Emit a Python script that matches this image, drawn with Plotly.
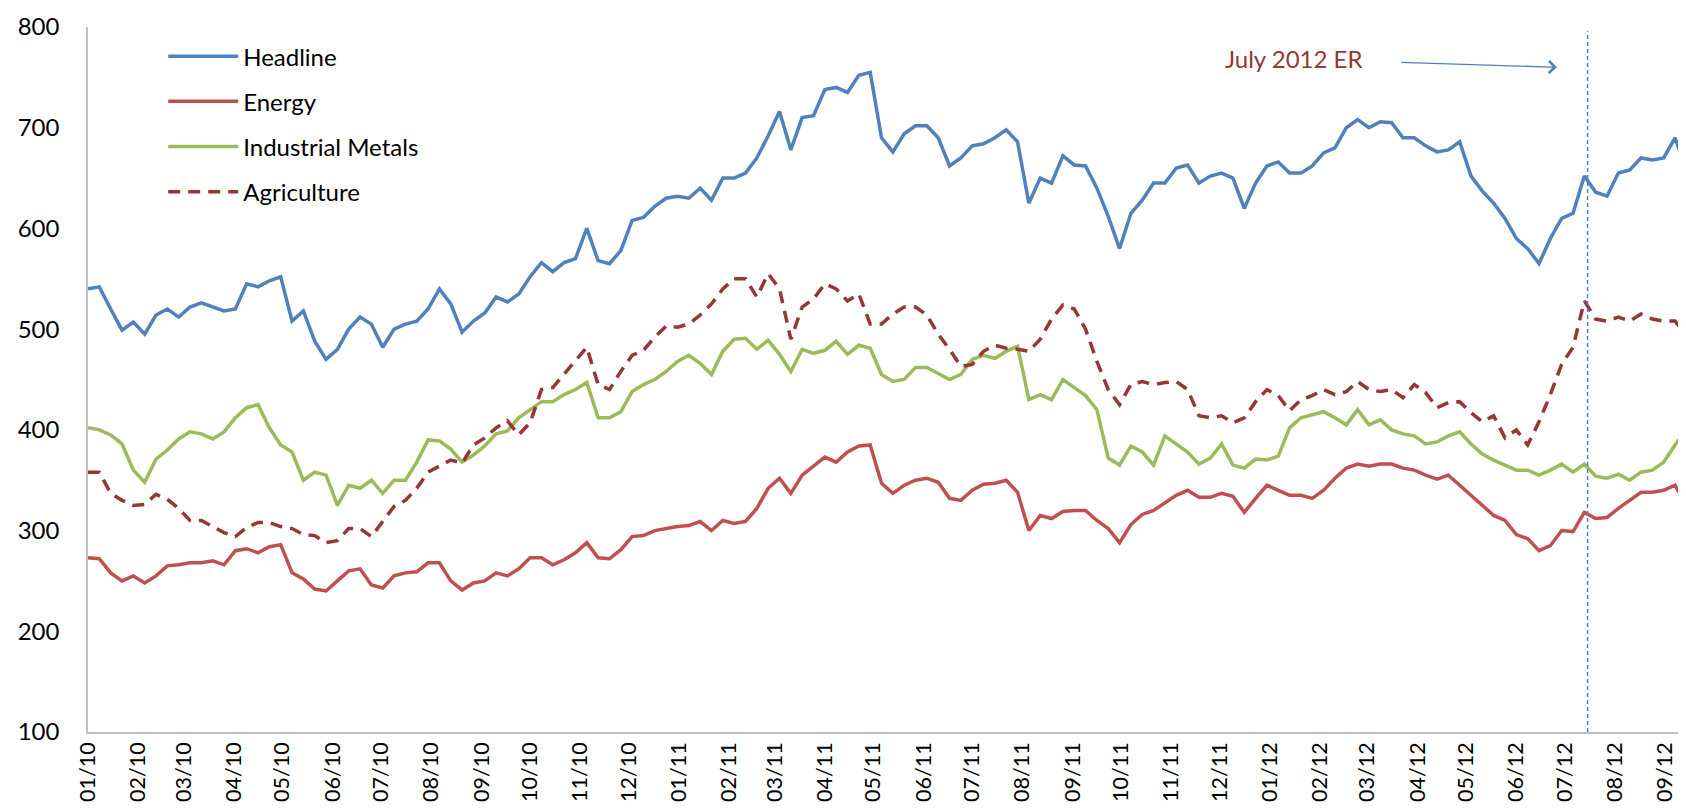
import pandas as pd
import plotly.graph_objects as go

# weekly (Friday) observations, Jan 2010 - mid Sep 2012
dates = pd.date_range("2010-01-01", "2012-09-14", freq="7D")

headline = [
    540, 542, 520, 499, 507,  495, 514, 520, 512,  522, 526, 522, 518,
    520, 545, 542, 548, 552,  508, 518, 488, 470,  480, 500, 512, 505,
    482, 500, 505, 508, 520,  540, 525, 497, 508,  516, 532, 527, 535,
    552, 566, 557, 566, 570,  600, 568, 565, 578,  608, 611, 622, 630, 632,
    630, 640, 628, 650,  650, 655, 670, 692,  716, 678, 710, 712,
    738, 740, 735, 752, 755,  690, 676, 694, 702,  702, 690, 662, 670,
    682, 684, 690, 698, 686,  625, 650, 645, 672,  663, 662, 640, 612, 580,
    615, 628, 645, 645,  660, 663, 645, 652,  655, 650, 620, 645, 662,
    666, 655, 655, 662,  675, 680, 700, 708,  700, 706, 705, 690, 690,
    682, 676, 678, 686,  652, 637, 625, 610,  590, 580, 565, 590, 610,
    615, 652, 636, 632,  655, 658, 670, 668, 670,  690, 658,
]

energy = [
    273, 272, 258, 250, 255,  248, 255, 265, 266,  268, 268, 270, 266,
    280, 282, 278, 284, 286,  258, 252, 242, 240,  250, 260, 262, 246,
    243, 255, 258, 259, 268,  268, 250, 241, 248,  250, 258, 255, 262,
    273, 273, 266, 271, 278,  288, 273, 272, 281,  294, 295, 300, 302, 304,
    305, 309, 300, 310,  307, 309, 322, 342,  352, 337, 355, 364,
    373, 368, 378, 384, 385,  347, 337, 345, 350,  352, 348, 332, 330,
    340, 346, 347, 350, 338,  300, 315, 312, 319,  320, 320, 310, 302, 288,
    306, 316, 320, 327,  335, 340, 333, 333,  337, 334, 318, 332, 345,
    340, 335, 335, 332,  340, 352, 362, 366,  364, 366, 366, 362, 360,
    355, 351, 355, 345,  335, 325, 315, 310,  296, 292, 280, 285, 300,
    299, 318, 312, 313,  322, 330, 338, 338, 340,  345, 325,
]

metals = [
    402, 400, 395, 386, 360,  348, 371, 380, 391,  398, 396, 391, 398,
    412, 422, 425, 402, 385,  378, 350, 358, 355,  325, 345, 342, 350,
    337, 350, 350, 368, 390,  389, 381, 368, 375,  384, 396, 399, 412,
    420, 428, 428, 435, 440,  447, 412, 412, 418,  438, 445, 450, 458, 468,
    474, 466, 455, 478,  490, 491, 480, 489,  475, 458, 480, 476,
    479, 488, 475, 484, 481,  455, 448, 450, 462,  462, 456, 450, 455,
    470, 474, 471, 478, 483,  430, 435, 430, 450,  442, 434, 420, 372, 365,
    384, 378, 365, 394,  386, 378, 366, 372,  386, 365, 362, 371, 370,
    374, 402, 412, 415,  418, 412, 405, 420,  405, 410, 400, 396, 394,
    386, 388, 394, 398,  386, 376, 370, 365,  360, 360, 355, 360, 366,
    358, 366, 354, 352,  356, 350, 358, 360, 368,  385, 400,
]

agriculture = [
    358, 358, 337, 330, 325,  326, 336, 331, 322,  310, 310, 304, 298,
    294, 303, 308, 308, 304,  302, 296, 295, 288,  290, 302, 302, 294,
    309, 324, 330, 342, 358,  364, 370, 367, 385,  392, 402, 409, 395,
    407, 440, 442, 455, 468,  482, 445, 440, 458,  474, 479, 492, 503, 502,
    505, 514, 525, 540,  550, 550, 532, 555,  540, 490, 522, 530,
    545, 540, 528, 535, 505,  505, 515, 522, 522,  514, 495, 480, 463,
    465, 478, 484, 481, 480,  478, 490, 510, 524,  520, 500, 468, 440, 425,
    445, 448, 445, 447,  448, 440, 414, 412,  414, 407, 412, 428, 440,
    434, 419, 430, 434,  440, 435, 438, 448,  440, 438, 440, 432, 445,
    437, 422, 427, 428,  417, 408, 414, 392,  400, 385, 408, 435, 465,
    482, 528, 510, 508,  512, 508, 515, 510, 508,  508, 494,
]

er_date = "2012-07-15"

fig = go.Figure()
series = [
    ("Headline", headline, "#4F81BD", "solid"),
    ("Energy", energy, "#C0504D", "solid"),
    ("Industrial Metals", metals, "#9BBB59", "solid"),
    ("Agriculture", agriculture, "#953735", "12px,8px"),
]
for name, vals, color, dash in series:
    fig.add_trace(go.Scatter(x=dates, y=vals, mode="lines", name=name,
                             legendgroup=name,
                             line=dict(color=color, width=3.5, dash=dash)))

# July 2012 ER marker
fig.add_shape(type="line", xref="x", yref="paper", x0=er_date, x1=er_date,
              y0=0, y1=0.994, line=dict(color="#4F81BD", width=1.5, dash="4px,3px"))
fig.add_annotation(x="2012-01-16", y=769, xref="x", yref="y", text="July 2012 ER",
                   showarrow=False, font=dict(size=24, color="#953735"))
fig.add_annotation(x="2012-06-26", y=760, ax="2012-03-21", ay=765,
                   xref="x", yref="y", axref="x", ayref="y", text="",
                   showarrow=True, arrowhead=4, arrowsize=1.8, arrowwidth=1.3,
                   arrowcolor="#4F81BD")

fig.update_layout(
    width=1686, height=810,
    margin=dict(l=80, r=6, t=19, b=86),
    paper_bgcolor="white", plot_bgcolor="white",
    font=dict(family="Lato, 'Open Sans', sans-serif", color="#000000"),
    legend=dict(x=0.047, y=0.99, xanchor="left", yanchor="top",
                bgcolor="rgba(0,0,0,0)", font=dict(size=24),
                traceorder="grouped", tracegroupgap=11, itemwidth=70),
    showlegend=True,
)
fig.update_xaxes(range=["2010-01-01", "2012-09-15"], dtick="M1", tick0="2010-01-01",
                 tickformat="%m/%y", tickangle=-90, tickfont=dict(size=21.5),
                 showgrid=False, showline=True, linecolor="#BFBFBF", linewidth=1.5,
                 ticks="", automargin=False)
fig.update_yaxes(range=[100, 800], dtick=100, tickfont=dict(size=24),
                 showgrid=False, showline=True, linecolor="#BFBFBF", linewidth=1.5,
                 ticks="", zeroline=False, ticklabelstandoff=22, automargin=False)

fig.write_html("out.html")
